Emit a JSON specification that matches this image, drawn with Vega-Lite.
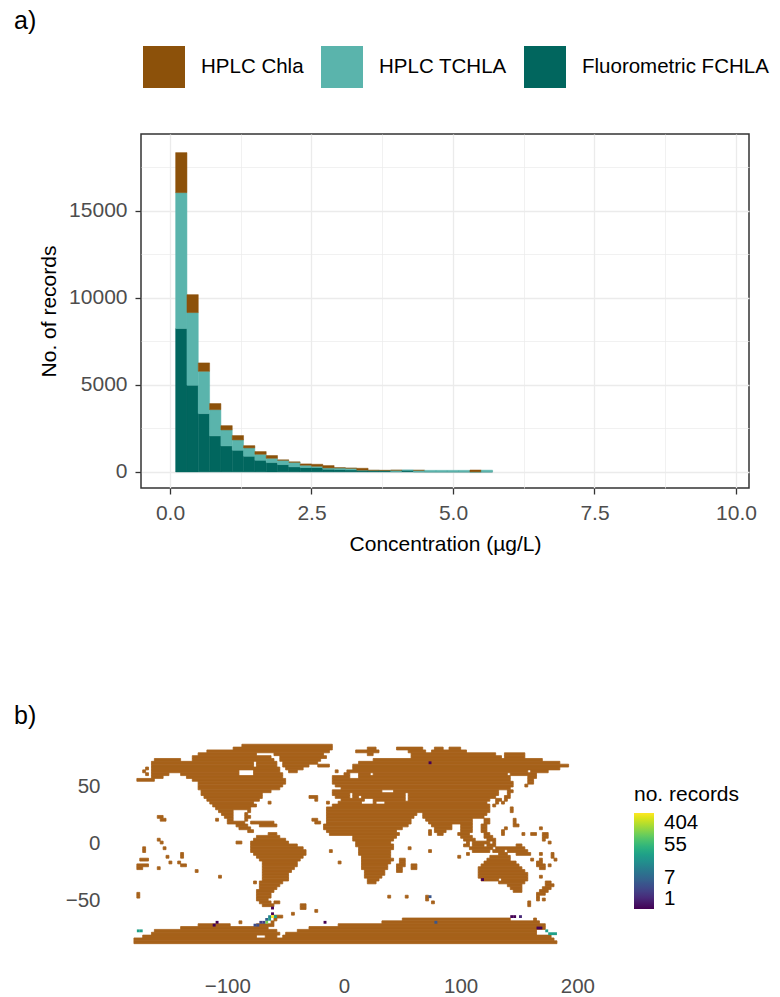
{"$schema":"https://vega.github.io/schema/vega-lite/v6.json","padding":{"left":13,"top":8,"right":0,"bottom":0},"background":"white","bounds":"flush","spacing":253,"config":{"font":"Liberation Sans"},"datasets":{"bars":[
{"lo":0.1,"hi":0.3,"m":"Fluorometric FCHLA","o":1,"n":8240},{"lo":0.1,"hi":0.3,"m":"HPLC TCHLA","o":2,"n":7815},{"lo":0.1,"hi":0.3,"m":"HPLC Chla","o":3,"n":2300},
{"lo":0.3,"hi":0.5,"m":"Fluorometric FCHLA","o":1,"n":4980},{"lo":0.3,"hi":0.5,"m":"HPLC TCHLA","o":2,"n":4180},{"lo":0.3,"hi":0.5,"m":"HPLC Chla","o":3,"n":1030},
{"lo":0.5,"hi":0.7,"m":"Fluorometric FCHLA","o":1,"n":3350},{"lo":0.5,"hi":0.7,"m":"HPLC TCHLA","o":2,"n":2435},{"lo":0.5,"hi":0.7,"m":"HPLC Chla","o":3,"n":480},
{"lo":0.7,"hi":0.9,"m":"Fluorometric FCHLA","o":1,"n":2070},{"lo":0.7,"hi":0.9,"m":"HPLC TCHLA","o":2,"n":1510},{"lo":0.7,"hi":0.9,"m":"HPLC Chla","o":3,"n":350},
{"lo":0.9,"hi":1.1,"m":"Fluorometric FCHLA","o":1,"n":1495},{"lo":0.9,"hi":1.1,"m":"HPLC TCHLA","o":2,"n":920},{"lo":0.9,"hi":1.1,"m":"HPLC Chla","o":3,"n":245},
{"lo":1.1,"hi":1.3,"m":"Fluorometric FCHLA","o":1,"n":1245},{"lo":1.1,"hi":1.3,"m":"HPLC TCHLA","o":2,"n":595},{"lo":1.1,"hi":1.3,"m":"HPLC Chla","o":3,"n":250},
{"lo":1.3,"hi":1.5,"m":"Fluorometric FCHLA","o":1,"n":900},{"lo":1.3,"hi":1.5,"m":"HPLC TCHLA","o":2,"n":480},{"lo":1.3,"hi":1.5,"m":"HPLC Chla","o":3,"n":130},
{"lo":1.5,"hi":1.7,"m":"Fluorometric FCHLA","o":1,"n":670},{"lo":1.5,"hi":1.7,"m":"HPLC TCHLA","o":2,"n":345},{"lo":1.5,"hi":1.7,"m":"HPLC Chla","o":3,"n":155},
{"lo":1.7,"hi":1.9,"m":"Fluorometric FCHLA","o":1,"n":535},{"lo":1.7,"hi":1.9,"m":"HPLC TCHLA","o":2,"n":250},{"lo":1.7,"hi":1.9,"m":"HPLC Chla","o":3,"n":155},
{"lo":1.9,"hi":2.1,"m":"Fluorometric FCHLA","o":1,"n":420},{"lo":1.9,"hi":2.1,"m":"HPLC TCHLA","o":2,"n":250},{"lo":1.9,"hi":2.1,"m":"HPLC Chla","o":3,"n":20},
{"lo":2.1,"hi":2.3,"m":"Fluorometric FCHLA","o":1,"n":290},{"lo":2.1,"hi":2.3,"m":"HPLC TCHLA","o":2,"n":265},{"lo":2.1,"hi":2.3,"m":"HPLC Chla","o":3,"n":20},
{"lo":2.3,"hi":2.5,"m":"Fluorometric FCHLA","o":1,"n":250},{"lo":2.3,"hi":2.5,"m":"HPLC TCHLA","o":2,"n":133},{"lo":2.3,"hi":2.5,"m":"HPLC Chla","o":3,"n":77},
{"lo":2.5,"hi":2.7,"m":"Fluorometric FCHLA","o":1,"n":250},{"lo":2.5,"hi":2.7,"m":"HPLC TCHLA","o":2,"n":75},{"lo":2.5,"hi":2.7,"m":"HPLC Chla","o":3,"n":115},
{"lo":2.7,"hi":2.9,"m":"Fluorometric FCHLA","o":1,"n":153},{"lo":2.7,"hi":2.9,"m":"HPLC TCHLA","o":2,"n":77},{"lo":2.7,"hi":2.9,"m":"HPLC Chla","o":3,"n":134},
{"lo":2.9,"hi":3.1,"m":"Fluorometric FCHLA","o":1,"n":134},{"lo":2.9,"hi":3.1,"m":"HPLC TCHLA","o":2,"n":96},{"lo":2.9,"hi":3.1,"m":"HPLC Chla","o":3,"n":10},
{"lo":3.1,"hi":3.3,"m":"Fluorometric FCHLA","o":1,"n":115},{"lo":3.1,"hi":3.3,"m":"HPLC TCHLA","o":2,"n":95},{"lo":3.1,"hi":3.3,"m":"HPLC Chla","o":3,"n":5},
{"lo":3.3,"hi":3.5,"m":"Fluorometric FCHLA","o":1,"n":96},{"lo":3.3,"hi":3.5,"m":"HPLC TCHLA","o":2,"n":4},{"lo":3.3,"hi":3.5,"m":"HPLC Chla","o":3,"n":110},
{"lo":3.5,"hi":3.7,"m":"Fluorometric FCHLA","o":1,"n":77},{"lo":3.5,"hi":3.7,"m":"HPLC TCHLA","o":2,"n":13},{"lo":3.5,"hi":3.7,"m":"HPLC Chla","o":3,"n":5},
{"lo":3.7,"hi":3.9,"m":"Fluorometric FCHLA","o":1,"n":77},{"lo":3.7,"hi":3.9,"m":"HPLC TCHLA","o":2,"n":8},{"lo":3.7,"hi":3.9,"m":"HPLC Chla","o":3,"n":5},
{"lo":3.9,"hi":4.1,"m":"Fluorometric FCHLA","o":1,"n":20},{"lo":3.9,"hi":4.1,"m":"HPLC TCHLA","o":2,"n":75},{"lo":3.9,"hi":4.1,"m":"HPLC Chla","o":3,"n":5},
{"lo":4.1,"hi":4.3,"m":"Fluorometric FCHLA","o":1,"n":96},{"lo":4.1,"hi":4.3,"m":"HPLC TCHLA","o":2,"n":4},
{"lo":4.3,"hi":4.5,"m":"Fluorometric FCHLA","o":1,"n":10},{"lo":4.3,"hi":4.5,"m":"HPLC TCHLA","o":2,"n":80},{"lo":4.3,"hi":4.5,"m":"HPLC Chla","o":3,"n":5},
{"lo":4.5,"hi":4.7,"m":"Fluorometric FCHLA","o":1,"n":5},{"lo":4.5,"hi":4.7,"m":"HPLC TCHLA","o":2,"n":85},
{"lo":4.7,"hi":4.9,"m":"Fluorometric FCHLA","o":1,"n":5},{"lo":4.7,"hi":4.9,"m":"HPLC TCHLA","o":2,"n":85},
{"lo":4.9,"hi":5.1,"m":"Fluorometric FCHLA","o":1,"n":5},{"lo":4.9,"hi":5.1,"m":"HPLC TCHLA","o":2,"n":85},
{"lo":5.1,"hi":5.3,"m":"Fluorometric FCHLA","o":1,"n":5},{"lo":5.1,"hi":5.3,"m":"HPLC TCHLA","o":2,"n":85},
{"lo":5.3,"hi":5.5,"m":"Fluorometric FCHLA","o":1,"n":3},{"lo":5.3,"hi":5.5,"m":"HPLC TCHLA","o":2,"n":2},{"lo":5.3,"hi":5.5,"m":"HPLC Chla","o":3,"n":105},
{"lo":5.5,"hi":5.7,"m":"Fluorometric FCHLA","o":1,"n":3},{"lo":5.5,"hi":5.7,"m":"HPLC TCHLA","o":2,"n":97}
],"cells":[
{"w":-62.5,"e":-60,"n":-60,"s":-62.5,"c":1},{"w":-62.5,"e":-60,"n":-62.5,"s":-65,"c":404},{"w":-60,"e":-57.5,"n":-62.5,"s":-65,"c":30},{"w":-65,"e":-62.5,"n":-62.5,"s":-65,"c":15},{"w":-67.5,"e":-65,"n":-65,"s":-67.5,"c":6},{"w":-65,"e":-62.5,"n":-65,"s":-67.5,"c":30},{"w":-67.5,"e":-65,"n":-67.5,"s":-70,"c":120},{"w":-70,"e":-67.5,"n":-67.5,"s":-70,"c":3},{"w":-72.5,"e":-70,"n":-67.5,"s":-70,"c":3},{"w":-75,"e":-72.5,"n":-70,"s":-72.5,"c":4},{"w":-77.5,"e":-75,"n":-70,"s":-72.5,"c":4},
{"w":-112.5,"e":-110,"n":-70,"s":-72.5,"c":1},{"w":-110,"e":-107.5,"n":-67.5,"s":-70,"c":1},{"w":-177.5,"e":-175,"n":-75,"s":-77.5,"c":30},{"w":-175,"e":-172.5,"n":-75,"s":-77.5,"c":30},{"w":-17.5,"e":-15,"n":-67.5,"s":-70,"c":1},{"w":72.5,"e":75,"n":-45,"s":-47.5,"c":5},{"w":77.5,"e":80,"n":-67.5,"s":-70,"c":5},{"w":117.5,"e":120,"n":-30,"s":-32.5,"c":1},{"w":72.5,"e":75,"n":72.5,"s":70,"c":1},{"w":-62.5,"e":-60,"n":-55,"s":-57.5,"c":1},{"w":142.5,"e":145,"n":-62.5,"s":-65,"c":1},{"w":145,"e":147.5,"n":-62.5,"s":-65,"c":1},{"w":150,"e":152.5,"n":-62.5,"s":-65,"c":2},{"w":165,"e":170,"n":-72.5,"s":-75,"c":1},{"w":172.5,"e":175,"n":-75,"s":-77.5,"c":30},{"w":175,"e":182.5,"n":-77.5,"s":-80,"c":30}
],"land":[
{"w":-87.5,"e":-10,"n":87.5,"s":85},
{"w":-95,"e":-10,"n":85,"s":82.5},{"w":20,"e":27.5,"n":85,"s":82.5},{"w":45,"e":67.5,"n":85,"s":82.5},{"w":77.5,"e":85,"n":85,"s":82.5},{"w":90,"e":100,"n":85,"s":82.5},
{"w":-117.5,"e":-12.5,"n":82.5,"s":80},{"w":10,"e":30,"n":82.5,"s":80},{"w":55,"e":70,"n":82.5,"s":80},{"w":75,"e":105,"n":82.5,"s":80},
{"w":-125,"e":-75,"n":80,"s":77.5},{"w":-60,"e":-17.5,"n":80,"s":77.5},{"w":20,"e":25,"n":80,"s":77.5},{"w":57.5,"e":130,"n":80,"s":77.5},{"w":137.5,"e":155,"n":80,"s":77.5},
{"w":-130,"e":-62.5,"n":77.5,"s":75},{"w":-55,"e":-15,"n":77.5,"s":75},{"w":57.5,"e":135,"n":77.5,"s":75},{"w":137.5,"e":155,"n":77.5,"s":75},
{"w":-162.5,"e":-140,"n":75,"s":72.5},{"w":-130,"e":-60,"n":75,"s":72.5},{"w":-55,"e":-20,"n":75,"s":72.5},{"w":25,"e":170,"n":75,"s":72.5},
{"w":-165,"e":-77.5,"n":72.5,"s":70},{"w":-75,"e":-57.5,"n":72.5,"s":70},{"w":-52.5,"e":-22.5,"n":72.5,"s":70},{"w":12.5,"e":185,"n":72.5,"s":70},
{"w":-165,"e":-77.5,"n":70,"s":67.5},{"w":-75,"e":-57.5,"n":70,"s":67.5},{"w":-52.5,"e":-30,"n":70,"s":67.5},{"w":-22.5,"e":-12.5,"n":70,"s":67.5},{"w":7.5,"e":192.5,"n":70,"s":67.5},
{"w":-170,"e":-167.5,"n":67.5,"s":65},{"w":-165,"e":-55,"n":67.5,"s":65},{"w":-50,"e":-35,"n":67.5,"s":65},{"w":7.5,"e":185,"n":67.5,"s":65},
{"w":-172.5,"e":-170,"n":65,"s":62.5},{"w":-165,"e":-90,"n":65,"s":62.5},{"w":-77.5,"e":-55,"n":65,"s":62.5},{"w":-47.5,"e":-40,"n":65,"s":62.5},{"w":-7.5,"e":-5,"n":65,"s":62.5},{"w":2.5,"e":157.5,"n":65,"s":62.5},{"w":160,"e":175,"n":65,"s":62.5},
{"w":-170,"e":-167.5,"n":62.5,"s":60},{"w":-165,"e":-150,"n":62.5,"s":60},{"w":-140,"e":-90,"n":62.5,"s":60},{"w":-77.5,"e":-52.5,"n":62.5,"s":60},{"w":0,"e":5,"n":62.5,"s":60},{"w":12.5,"e":22.5,"n":62.5,"s":60},{"w":25,"e":140,"n":62.5,"s":60},{"w":142.5,"e":165,"n":62.5,"s":60},
{"w":-165,"e":-155,"n":60,"s":57.5},{"w":-135,"e":-52.5,"n":60,"s":57.5},{"w":-10,"e":5,"n":60,"s":57.5},{"w":12.5,"e":142.5,"n":60,"s":57.5},{"w":157.5,"e":165,"n":60,"s":57.5},
{"w":-177.5,"e":-162.5,"n":57.5,"s":55},{"w":-130,"e":-50,"n":57.5,"s":55},{"w":-10,"e":142.5,"n":57.5,"s":55},{"w":157.5,"e":162.5,"n":57.5,"s":55},
{"w":-125,"e":-50,"n":55,"s":52.5},{"w":-10,"e":145,"n":55,"s":52.5},{"w":157.5,"e":162.5,"n":55,"s":52.5},
{"w":-125,"e":-52.5,"n":52.5,"s":50},{"w":-7.5,"e":145,"n":52.5,"s":50},{"w":155,"e":157.5,"n":52.5,"s":50},
{"w":-125,"e":-55,"n":50,"s":47.5},{"w":-2.5,"e":142.5,"n":50,"s":47.5},
{"w":-122.5,"e":-62.5,"n":47.5,"s":45},{"w":-10,"e":32.5,"n":47.5,"s":45},{"w":42.5,"e":132.5,"n":47.5,"s":45},{"w":140,"e":145,"n":47.5,"s":45},
{"w":-122.5,"e":-70,"n":45,"s":42.5},{"w":-10,"e":5,"n":45,"s":42.5},{"w":7.5,"e":52.5,"n":45,"s":42.5},{"w":55,"e":132.5,"n":45,"s":42.5},{"w":140,"e":142.5,"n":45,"s":42.5},
{"w":-120,"e":-70,"n":42.5,"s":40},{"w":-30,"e":-22.5,"n":42.5,"s":40},{"w":-7.5,"e":5,"n":42.5,"s":40},{"w":7.5,"e":12.5,"n":42.5,"s":40},{"w":15,"e":52.5,"n":42.5,"s":40},{"w":55,"e":130,"n":42.5,"s":40},{"w":137.5,"e":142.5,"n":42.5,"s":40},
{"w":-117.5,"e":-72.5,"n":40,"s":37.5},{"w":-25,"e":-22.5,"n":40,"s":37.5},{"w":-2.5,"e":17.5,"n":40,"s":37.5},{"w":25,"e":52.5,"n":40,"s":37.5},{"w":55,"e":125,"n":40,"s":37.5},{"w":130,"e":135,"n":40,"s":37.5},{"w":137.5,"e":140,"n":40,"s":37.5},
{"w":-115,"e":-77.5,"n":37.5,"s":35},{"w":-65,"e":-62.5,"n":37.5,"s":35},{"w":-15,"e":-12.5,"n":37.5,"s":35},{"w":-5,"e":15,"n":37.5,"s":35},{"w":25,"e":27.5,"n":37.5,"s":35},{"w":35,"e":122.5,"n":37.5,"s":35},{"w":130,"e":132.5,"n":37.5,"s":35},{"w":135,"e":137.5,"n":37.5,"s":35},
{"w":-112.5,"e":-75,"n":35,"s":32.5},{"w":-10,"e":125,"n":35,"s":32.5},{"w":127.5,"e":130,"n":35,"s":32.5},
{"w":-110,"e":-80,"n":32.5,"s":30},{"w":-15,"e":125,"n":32.5,"s":30},{"w":142.5,"e":145,"n":32.5,"s":30},
{"w":-107.5,"e":-95,"n":30,"s":27.5},{"w":-82.5,"e":-80,"n":30,"s":27.5},{"w":-15,"e":125,"n":30,"s":27.5},{"w":142.5,"e":145,"n":30,"s":27.5},
{"w":-105,"e":-95,"n":27.5,"s":25},{"w":-85,"e":-82.5,"n":27.5,"s":25},{"w":-15,"e":62.5,"n":27.5,"s":25},{"w":67.5,"e":122.5,"n":27.5,"s":25},
{"w":-160,"e":-155,"n":25,"s":22.5},{"w":-102.5,"e":-95,"n":25,"s":22.5},{"w":-85,"e":-80,"n":25,"s":22.5},{"w":-15,"e":60,"n":25,"s":22.5},{"w":67.5,"e":120,"n":25,"s":22.5},
{"w":-157.5,"e":-152.5,"n":22.5,"s":20},{"w":-110,"e":-107.5,"n":22.5,"s":20},{"w":-100,"e":-95,"n":22.5,"s":20},{"w":-85,"e":-82.5,"n":22.5,"s":20},{"w":-27.5,"e":-22.5,"n":22.5,"s":20},{"w":-15,"e":57.5,"n":22.5,"s":20},{"w":70,"e":110,"n":22.5,"s":20},{"w":120,"e":125,"n":22.5,"s":20},{"w":145,"e":147.5,"n":22.5,"s":20},
{"w":-100,"e":-85,"n":20,"s":17.5},{"w":-80,"e":-60,"n":20,"s":17.5},{"w":-25,"e":-20,"n":20,"s":17.5},{"w":-15,"e":57.5,"n":20,"s":17.5},{"w":72.5,"e":110,"n":20,"s":17.5},{"w":120,"e":125,"n":20,"s":17.5},{"w":145,"e":147.5,"n":20,"s":17.5},
{"w":-92.5,"e":-82.5,"n":17.5,"s":15},{"w":-72.5,"e":-57.5,"n":17.5,"s":15},{"w":-17.5,"e":55,"n":17.5,"s":15},{"w":75,"e":92.5,"n":17.5,"s":15},{"w":100,"e":110,"n":17.5,"s":15},{"w":117.5,"e":122.5,"n":17.5,"s":15},{"w":145,"e":150,"n":17.5,"s":15},
{"w":-90,"e":-80,"n":15,"s":12.5},{"w":-17.5,"e":50,"n":15,"s":12.5},{"w":77.5,"e":92.5,"n":15,"s":12.5},{"w":100,"e":110,"n":15,"s":12.5},{"w":117.5,"e":122.5,"n":15,"s":12.5},{"w":137.5,"e":140,"n":15,"s":12.5},{"w":167.5,"e":170,"n":15,"s":12.5},
{"w":-82.5,"e":-77.5,"n":12.5,"s":10},{"w":-15,"e":45,"n":12.5,"s":10},{"w":72.5,"e":75,"n":12.5,"s":10},{"w":77.5,"e":87.5,"n":12.5,"s":10},{"w":100,"e":110,"n":12.5,"s":10},{"w":117.5,"e":122.5,"n":12.5,"s":10},{"w":135,"e":137.5,"n":12.5,"s":10},
{"w":-65,"e":-57.5,"n":10,"s":7.5},{"w":-12.5,"e":47.5,"n":10,"s":7.5},{"w":72.5,"e":75,"n":10,"s":7.5},{"w":80,"e":85,"n":10,"s":7.5},{"w":97.5,"e":107.5,"n":10,"s":7.5},{"w":120,"e":125,"n":10,"s":7.5},{"w":135,"e":137.5,"n":10,"s":7.5},{"w":152.5,"e":155,"n":10,"s":7.5},{"w":160,"e":165,"n":10,"s":7.5},{"w":170,"e":175,"n":10,"s":7.5},
{"w":-75,"e":-55,"n":7.5,"s":5},{"w":7.5,"e":45,"n":7.5,"s":5},{"w":100,"e":110,"n":7.5,"s":5},{"w":120,"e":127.5,"n":7.5,"s":5},{"w":170,"e":175,"n":7.5,"s":5},
{"w":-160,"e":-157.5,"n":5,"s":2.5},{"w":-77.5,"e":-50,"n":5,"s":2.5},{"w":7.5,"e":42.5,"n":5,"s":2.5},{"w":102.5,"e":112.5,"n":5,"s":2.5},{"w":122.5,"e":130,"n":5,"s":2.5},{"w":170,"e":172.5,"n":5,"s":2.5},
{"w":-157.5,"e":-155,"n":2.5,"s":0},{"w":-92.5,"e":-87.5,"n":2.5,"s":0},{"w":-80,"e":-47.5,"n":2.5,"s":0},{"w":10,"e":40,"n":2.5,"s":0},{"w":105,"e":107.5,"n":2.5,"s":0},{"w":110,"e":125,"n":2.5,"s":0},{"w":127.5,"e":130,"n":2.5,"s":0},{"w":175,"e":177.5,"n":2.5,"s":0},
{"w":-80,"e":-40,"n":0,"s":-2.5},{"w":10,"e":42.5,"n":0,"s":-2.5},{"w":102.5,"e":107.5,"n":0,"s":-2.5},{"w":110,"e":120,"n":0,"s":-2.5},{"w":122.5,"e":130,"n":0,"s":-2.5},{"w":147.5,"e":152.5,"n":0,"s":-2.5},
{"w":-172.5,"e":-170,"n":-2.5,"s":-5},{"w":-155,"e":-152.5,"n":-2.5,"s":-5},{"w":-80,"e":-35,"n":-2.5,"s":-5},{"w":12.5,"e":42.5,"n":-2.5,"s":-5},{"w":55,"e":57.5,"n":-2.5,"s":-5},{"w":107.5,"e":127.5,"n":-2.5,"s":-5},{"w":130,"e":155,"n":-2.5,"s":-5},
{"w":-172.5,"e":-170,"n":-5,"s":-7.5},{"w":-80,"e":-32.5,"n":-5,"s":-7.5},{"w":-12.5,"e":-10,"n":-5,"s":-7.5},{"w":12.5,"e":40,"n":-5,"s":-7.5},{"w":72.5,"e":75,"n":-5,"s":-7.5},{"w":110,"e":125,"n":-5,"s":-7.5},{"w":127.5,"e":137.5,"n":-5,"s":-7.5},{"w":140,"e":157.5,"n":-5,"s":-7.5},
{"w":-140,"e":-137.5,"n":-7.5,"s":-10},{"w":-77.5,"e":-32.5,"n":-7.5,"s":-10},{"w":12.5,"e":40,"n":-7.5,"s":-10},{"w":105,"e":107.5,"n":-7.5,"s":-10},{"w":132.5,"e":140,"n":-7.5,"s":-10},{"w":147.5,"e":160,"n":-7.5,"s":-10},{"w":167.5,"e":170,"n":-7.5,"s":-10},{"w":177.5,"e":180,"n":-7.5,"s":-10},
{"w":-152.5,"e":-150,"n":-10,"s":-12.5},{"w":-140,"e":-137.5,"n":-10,"s":-12.5},{"w":-75,"e":-35,"n":-10,"s":-12.5},{"w":15,"e":40,"n":-10,"s":-12.5},{"w":97.5,"e":100,"n":-10,"s":-12.5},{"w":125,"e":142.5,"n":-10,"s":-12.5},{"w":177.5,"e":180,"n":-10,"s":-12.5},
{"w":-175,"e":-167.5,"n":-12.5,"s":-15},{"w":-72.5,"e":-37.5,"n":-12.5,"s":-15},{"w":15,"e":42.5,"n":-12.5,"s":-15},{"w":47.5,"e":52.5,"n":-12.5,"s":-15},{"w":122.5,"e":142.5,"n":-12.5,"s":-15},{"w":160,"e":162.5,"n":-12.5,"s":-15},{"w":167.5,"e":170,"n":-12.5,"s":-15},{"w":180,"e":182.5,"n":-12.5,"s":-15},
{"w":-150,"e":-147.5,"n":-15,"s":-17.5},{"w":-142.5,"e":-140,"n":-15,"s":-17.5},{"w":-70,"e":-40,"n":-15,"s":-17.5},{"w":-5,"e":-2.5,"n":-15,"s":-17.5},{"w":15,"e":40,"n":-15,"s":-17.5},{"w":47.5,"e":52.5,"n":-15,"s":-17.5},{"w":120,"e":147.5,"n":-15,"s":-17.5},{"w":165,"e":170,"n":-15,"s":-17.5},
{"w":-177.5,"e":-167.5,"n":-17.5,"s":-20},{"w":-140,"e":-135,"n":-17.5,"s":-20},{"w":-70,"e":-40,"n":-17.5,"s":-20},{"w":15,"e":37.5,"n":-17.5,"s":-20},{"w":45,"e":52.5,"n":-17.5,"s":-20},{"w":57.5,"e":62.5,"n":-17.5,"s":-20},{"w":117.5,"e":150,"n":-17.5,"s":-20},{"w":165,"e":172.5,"n":-17.5,"s":-20},{"w":175,"e":177.5,"n":-17.5,"s":-20},
{"w":-177.5,"e":-172.5,"n":-20,"s":-22.5},{"w":-160,"e":-157.5,"n":-20,"s":-22.5},{"w":-70,"e":-42.5,"n":-20,"s":-22.5},{"w":15,"e":37.5,"n":-20,"s":-22.5},{"w":45,"e":50,"n":-20,"s":-22.5},{"w":57.5,"e":62.5,"n":-20,"s":-22.5},{"w":115,"e":152.5,"n":-20,"s":-22.5},{"w":167.5,"e":172.5,"n":-20,"s":-22.5},
{"w":-127.5,"e":-125,"n":-22.5,"s":-25},{"w":-70,"e":-45,"n":-22.5,"s":-25},{"w":17.5,"e":35,"n":-22.5,"s":-25},{"w":45,"e":50,"n":-22.5,"s":-25},{"w":115,"e":155,"n":-22.5,"s":-25},
{"w":-70,"e":-47.5,"n":-25,"s":-27.5},{"w":17.5,"e":35,"n":-25,"s":-27.5},{"w":115,"e":157.5,"n":-25,"s":-27.5},
{"w":-107.5,"e":-105,"n":-27.5,"s":-30},{"w":-70,"e":-47.5,"n":-27.5,"s":-30},{"w":17.5,"e":32.5,"n":-27.5,"s":-30},{"w":115,"e":157.5,"n":-27.5,"s":-30},{"w":167.5,"e":170,"n":-27.5,"s":-30},
{"w":-70,"e":-47.5,"n":-30,"s":-32.5},{"w":20,"e":30,"n":-30,"s":-32.5},{"w":117.5,"e":132.5,"n":-30,"s":-32.5},{"w":135,"e":157.5,"n":-30,"s":-32.5},
{"w":-77.5,"e":-75,"n":-32.5,"s":-35},{"w":-72.5,"e":-52.5,"n":-32.5,"s":-35},{"w":20,"e":27.5,"n":-32.5,"s":-35},{"w":132.5,"e":155,"n":-32.5,"s":-35},{"w":172.5,"e":177.5,"n":-32.5,"s":-35},
{"w":-72.5,"e":-55,"n":-35,"s":-37.5},{"w":140,"e":152.5,"n":-35,"s":-37.5},{"w":172.5,"e":180,"n":-35,"s":-37.5},
{"w":-72.5,"e":-57.5,"n":-37.5,"s":-40},{"w":142.5,"e":152.5,"n":-37.5,"s":-40},{"w":170,"e":177.5,"n":-37.5,"s":-40},
{"w":-75,"e":-60,"n":-40,"s":-42.5},{"w":145,"e":152.5,"n":-40,"s":-42.5},{"w":167.5,"e":175,"n":-40,"s":-42.5},
{"w":-177.5,"e":-175,"n":-42.5,"s":-45},{"w":-75,"e":-62.5,"n":-42.5,"s":-45},{"w":165,"e":172.5,"n":-42.5,"s":-45},
{"w":-177.5,"e":-175,"n":-45,"s":-47.5},{"w":-75,"e":-62.5,"n":-45,"s":-47.5},{"w":37.5,"e":40,"n":-45,"s":-47.5},{"w":52.5,"e":55,"n":-45,"s":-47.5},{"w":70,"e":72.5,"n":-45,"s":-47.5},{"w":165,"e":167.5,"n":-45,"s":-47.5},
{"w":-75,"e":-65,"n":-47.5,"s":-50},{"w":70,"e":72.5,"n":-47.5,"s":-50},{"w":165,"e":167.5,"n":-47.5,"s":-50},{"w":170,"e":172.5,"n":-47.5,"s":-50},
{"w":-72.5,"e":-62.5,"n":-50,"s":-52.5},{"w":-60,"e":-55,"n":-50,"s":-52.5},{"w":75,"e":77.5,"n":-50,"s":-52.5},{"w":157.5,"e":160,"n":-50,"s":-52.5},
{"w":-70,"e":-60,"n":-52.5,"s":-55},{"w":-37.5,"e":-32.5,"n":-52.5,"s":-55},{"w":157.5,"e":160,"n":-52.5,"s":-55},
{"w":-37.5,"e":-32.5,"n":-55,"s":-57.5},
{"w":-25,"e":-22.5,"n":-57.5,"s":-60},
{"w":-45,"e":-42.5,"n":-60,"s":-62.5},
{"w":-60,"e":-52.5,"n":-62.5,"s":-65},
{"w":-60,"e":-57.5,"n":-65,"s":-67.5},{"w":50,"e":142.5,"n":-65,"s":-67.5},{"w":162.5,"e":165,"n":-65,"s":-67.5},
{"w":-90,"e":-87.5,"n":-67.5,"s":-70},{"w":-62.5,"e":-60,"n":-67.5,"s":-70},{"w":32.5,"e":167.5,"n":-67.5,"s":-70},
{"w":-125,"e":-97.5,"n":-70,"s":-72.5},{"w":-75,"e":-60,"n":-70,"s":-72.5},{"w":-5,"e":172.5,"n":-70,"s":-72.5},
{"w":-140,"e":-65,"n":-72.5,"s":-75},{"w":-30,"e":172.5,"n":-72.5,"s":-75},
{"w":-162.5,"e":-57.5,"n":-75,"s":-77.5},{"w":-40,"e":165,"n":-75,"s":-77.5},
{"w":-165,"e":-55,"n":-77.5,"s":-80},{"w":-50,"e":165,"n":-77.5,"s":-80},
{"w":-172.5,"e":-75,"n":-80,"s":-82.5},{"w":-67.5,"e":-57.5,"n":-80,"s":-82.5},{"w":-52.5,"e":177.5,"n":-80,"s":-82.5},
{"w":-180,"e":180,"n":-82.5,"s":-85},
{"w":-180,"e":182.5,"n":-85,"s":-87.5}
]},
"vconcat":[
{"width":608,"height":354,"view":{"stroke":"#333333","strokeWidth":1.5},"title":{"text":"a)","anchor":"start","frame":"group","dx":-127,"offset":12,"fontSize":25,"fontWeight":"normal","font":"Liberation Sans"},"data":{"name":"bars"},"transform":[{"stack":"n","groupby":["lo"],"sort":[{"field":"o","order":"ascending"}],"as":["b0","b1"]}],"mark":{"type":"bar","strokeWidth":0.5},"encoding":{
"x":{"field":"lo","type":"quantitative","scale":{"domain":[-0.512,10.23],"nice":false,"zero":false},"axis":{"values":[0,1.25,2.5,3.75,5,6.25,7.5,8.75,10],"title":"Concentration (µg/L)","titleFontSize":21,"titleFontWeight":"normal","titleColor":"#000000","titlePadding":10,"labelFontSize":21,"labelColor":"#4D4D4D","labelPadding":8,"labelExpr":"indexof([0,2.5,5,7.5,10],datum.value)>=0 ? format(datum.value,'.1f') : ''","labelOverlap":false,"domain":false,"tickColor":"#333333","tickWidth":1.3,"tickSize":{"condition":{"test":"indexof([0,2.5,5,7.5,10],datum.value)>=0","value":6},"value":0},"gridColor":"#EBEBEB","gridWidth":{"condition":{"test":"indexof([0,2.5,5,7.5,10],datum.value)>=0","value":1.3},"value":0.7}}},
"x2":{"field":"hi"},
"y":{"field":"b0","type":"quantitative","scale":{"domain":[-925,19425],"nice":false,"zero":false},"axis":{"values":[0,2500,5000,7500,10000,12500,15000,17500],"title":"No. of records","titleFontSize":21,"titleFontWeight":"normal","titleColor":"#000000","titlePadding":9,"labelFontSize":21,"labelColor":"#4D4D4D","labelPadding":8,"labelExpr":"indexof([0,5000,10000,15000],datum.value)>=0 ? format(datum.value,'d') : ''","labelOverlap":false,"domain":false,"tickColor":"#333333","tickWidth":1.3,"tickSize":{"condition":{"test":"indexof([0,5000,10000,15000],datum.value)>=0","value":6},"value":0},"gridColor":"#EBEBEB","gridWidth":{"condition":{"test":"indexof([0,5000,10000,15000],datum.value)>=0","value":1.3},"value":0.7}}},
"y2":{"field":"b1"},
"stroke":{"field":"m","type":"nominal","scale":{"domain":["HPLC Chla","HPLC TCHLA","Fluorometric FCHLA"],"range":["#8C510A","#5AB4AC","#01665E"]},"legend":null},
"color":{"field":"m","type":"nominal","scale":{"domain":["HPLC Chla","HPLC TCHLA","Fluorometric FCHLA"],"range":["#8C510A","#5AB4AC","#01665E"]},"legend":{"orient":"none","legendX":2,"legendY":-88,"direction":"horizontal","columns":3,"title":null,"symbolType":"square","symbolSize":1764,"symbolStrokeWidth":0,"symbolOpacity":1,"labelFontSize":20.5,"labelColor":"#000000","labelOffset":16,"columnPadding":17,"gridAlign":"each","labelLimit":300}}}},
{"width":459,"height":225,"view":{"stroke":null},"title":{"text":"b)","anchor":"start","frame":"group","dx":-127,"offset":12,"fontSize":25,"fontWeight":"normal","font":"Liberation Sans"},"layer":[
{"data":{"name":"land"},"mark":{"type":"rect","color":"#A6611A","stroke":"#A6611A","strokeWidth":0.8},"encoding":{"x":{"field":"w","type":"quantitative","scale":{"domain":[-173.95,219.4],"nice":false,"zero":false},"axis":{"values":[-100,0,100,200],"title":null,"grid":false,"domain":false,"ticks":false,"labelFontSize":20.5,"labelColor":"#4D4D4D","labelPadding":10,"labelFlush":false}},"x2":{"field":"e"},"y":{"field":"n","type":"quantitative","scale":{"domain":[-107.1,90.35],"nice":false,"zero":false},"axis":{"values":[-50,0,50],"title":null,"grid":false,"domain":false,"ticks":false,"labelFontSize":20.5,"labelColor":"#4D4D4D","labelPadding":41}},"y2":{"field":"s"}}},
{"data":{"name":"cells"},"mark":{"type":"rect"},"encoding":{"x":{"field":"w","type":"quantitative"},"x2":{"field":"e"},"y":{"field":"n","type":"quantitative"},"y2":{"field":"s"},"color":{"field":"c","type":"quantitative","scale":{"type":"log","domain":[1,404],"scheme":"viridis"},"legend":{"orient":"none","legendX":493,"legendY":43,"title":"no. records","titleFontSize":21,"titleFontWeight":"normal","titleColor":"#000000","titlePadding":8,"values":[1,7,55,404],"gradientLength":96,"gradientThickness":20,"gradientStrokeWidth":0,"labelFontSize":20.5,"labelColor":"#000000","labelOffset":10,"labelOverlap":false,"encoding":{"labels":{"update":{"baseline":{"value":"middle"}}}}}}}}
]}
]}
